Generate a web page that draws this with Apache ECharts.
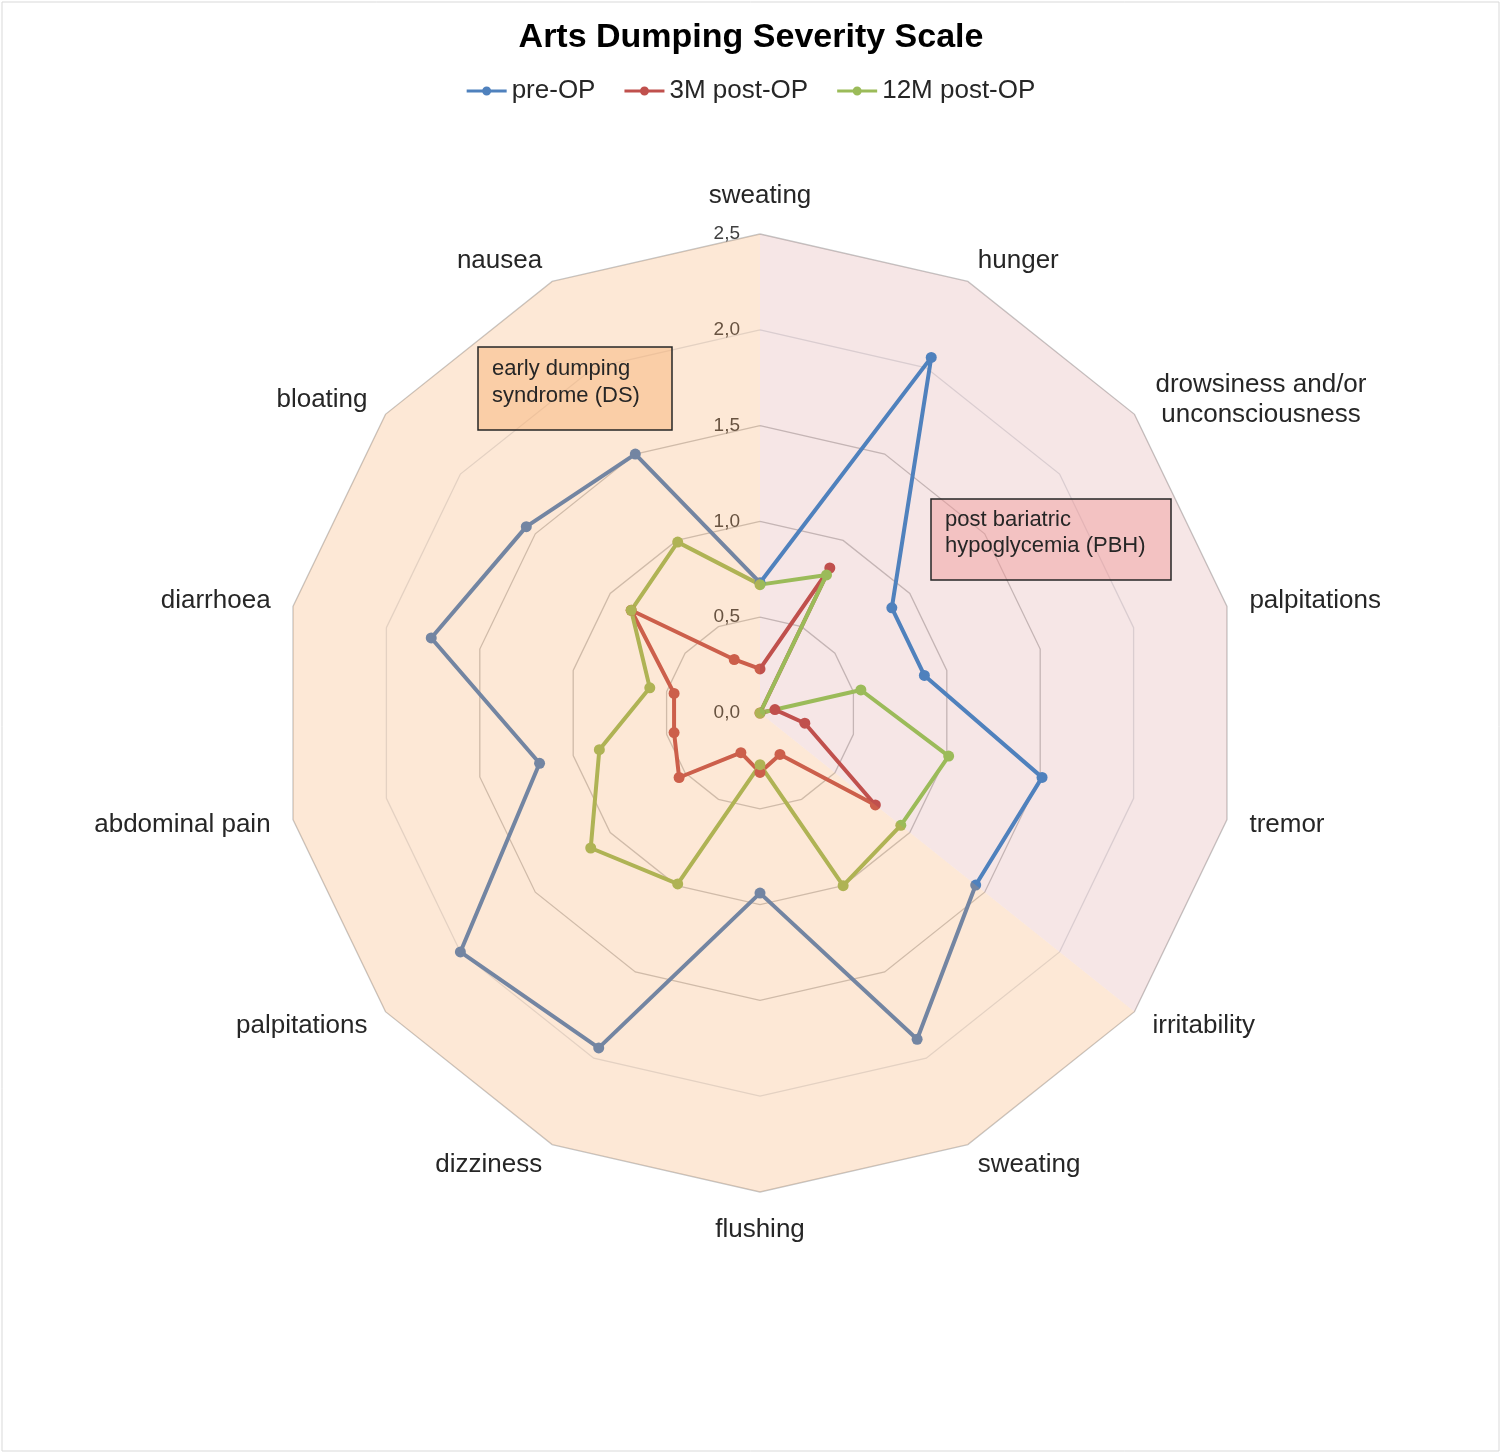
<!DOCTYPE html>
<html>
<head>
<meta charset="utf-8">
<title>Arts Dumping Severity Scale</title>
<script src="https://cdn.jsdelivr.net/npm/echarts@6/dist/echarts.min.js"></script>
<style>
  html, body { margin: 0; padding: 0; background: #fff; }
  #chart { width: 1502px; height: 1454px; }
</style>
</head>
<body>
<div id="chart"></div>
<script>
// symptoms, clockwise from the top
var axes = ['sweating', 'hunger', 'drowsiness and/or\nunconsciousness', 'palpitations', 'tremor',
  'irritability', 'sweating', 'flushing', 'dizziness', 'palpitations', 'abdominal pain',
  'diarrhoea', 'bloating', 'nausea'];

var preOP   = [0.68, 2.06, 0.88, 0.88, 1.51, 1.44, 1.89, 0.94, 1.94, 2.00, 1.18, 1.76, 1.56, 1.50];
var post3M  = [0.23, 0.84, 0.00, 0.08, 0.24, 0.77, 0.24, 0.31, 0.23, 0.54, 0.46, 0.46, 0.86, 0.31];
var post12M = [0.67, 0.80, 0.00, 0.54, 1.01, 0.94, 1.00, 0.27, 0.99, 1.13, 0.86, 0.59, 0.86, 0.99];

// reach of the two shaded zones on each axis
var pbhZone = [2.5, 2.5, 2.5, 2.5, 2.5, 2.5, 0, 0, 0, 0, 0, 0, 0, 0];
var dsZone  = [2.5, 0, 0, 0, 0, 2.5, 2.5, 2.5, 2.5, 2.5, 2.5, 2.5, 2.5, 2.5];

var seriesNames = ['pre-OP', '3M post-OP', '12M post-OP'];
var colors = ['#4f81bd', '#c0504d', '#9bbb59'];
var axisMax = 2.5;

// echarts lays indicators out counter-clockwise, so flip all but the first
function cw(arr) {
  return [arr[0]].concat(arr.slice(1).reverse());
}

var chart = echarts.init(document.getElementById('chart'));
var font = 'Liberation Sans, Arial, sans-serif';

var indicators = cw(axes).map(function (name, i) {
  var ind = { name: name, min: 0, max: axisMax };
  if (i === 0) {
    ind.axisLabel = {
      show: true,
      fontSize: 19,
      color: '#404040',
      fontFamily: font,
      margin: 20,
      formatter: function (v) { return v.toFixed(1).replace('.', ','); }
    };
  }
  return ind;
});

var lineData = [preOP, post3M, post12M].map(function (vals, k) {
  return {
    name: seriesNames[k],
    value: cw(vals),
    symbol: 'circle',
    symbolSize: 11,
    lineStyle: { color: colors[k], width: 4 },
    itemStyle: { color: colors[k] }
  };
});

var option = {
  backgroundColor: '#fff',
  animation: false,
  title: {
    text: 'Arts Dumping Severity Scale',
    left: 'center',
    top: 16,
    textStyle: { fontSize: 34, fontWeight: 'bold', color: '#000', fontFamily: font }
  },
  legend: {
    top: 73,
    left: 'center',
    data: seriesNames,
    itemWidth: 40,
    itemHeight: 11,
    itemGap: 29,
    icon: 'path://M0,4L40,4L40,7L0,7Z M15.5,5.5A4.5,4.5,0,1,1,24.5,5.5A4.5,4.5,0,1,1,15.5,5.5Z',
    textStyle: { fontSize: 26, color: '#262626', fontFamily: font }
  },
  radar: {
    center: [760, 713],
    radius: 479,
    shape: 'polygon',
    splitNumber: 5,
    indicator: indicators,
    nameGap: 23,
    axisName: {
      color: '#262626',
      fontSize: 26,
      lineHeight: 30,
      fontFamily: font,
      formatter: function (name) {
        if (name.indexOf('\n') < 0) return name;
        return name.split('\n').map(function (s) { return '{c|' + s + '}'; }).join('\n');
      },
      rich: {
        c: { width: 217, align: 'center', fontSize: 26, lineHeight: 30, color: '#262626', fontFamily: font }
      }
    },
    axisLine: { show: false },
    axisTick: { show: false },
    axisLabel: { show: false },
    splitLine: {
      lineStyle: {
        color: ['#c6c6c6', '#c6c6c6', '#c6c6c6', '#c6c6c6', '#dfe2e6'],
        width: 1.3
      }
    },
    splitArea: { show: false }
  },
  series: [
    {
      type: 'radar',
      silent: true,
      z: 1,
      symbol: 'none',
      lineStyle: { opacity: 0 },
      areaStyle: { color: '#c0504d', opacity: 0.14 },
      data: [{ name: 'PBH', value: cw(pbhZone) }]
    },
    {
      type: 'radar',
      z: 2,
      data: lineData
    },
    {
      type: 'radar',
      silent: true,
      z: 3,
      symbol: 'none',
      lineStyle: { opacity: 0 },
      areaStyle: { color: '#f79646', opacity: 0.22 },
      data: [{ name: 'DS', value: cw(dsZone) }]
    }
  ],
  graphic: [
    {
      type: 'rect', z: 100,
      shape: { x: 2, y: 2, width: 1497, height: 1449 },
      style: { fill: 'none', stroke: '#d9d9d9', lineWidth: 1 }
    },
    {
      type: 'group', z: 100,
      children: [
        {
          type: 'rect', z: 100,
          shape: { x: 478, y: 347, width: 194, height: 83 },
          style: { fill: 'rgba(248,180,120,0.5)', stroke: '#262626', lineWidth: 1.5 }
        },
        {
          type: 'text', z: 101, x: 492, y: 355,
          style: { text: 'early dumping\nsyndrome (DS)', fontSize: 22, lineHeight: 27, fill: '#262626', fontFamily: font }
        },
        {
          type: 'rect', z: 100,
          shape: { x: 931, y: 499, width: 240, height: 81 },
          style: { fill: 'rgba(240,150,150,0.45)', stroke: '#262626', lineWidth: 1.5 }
        },
        {
          type: 'text', z: 101, x: 945, y: 507,
          style: { text: 'post bariatric\nhypoglycemia (PBH)', fontSize: 22, lineHeight: 26, fill: '#262626', fontFamily: font }
        }
      ]
    }
  ]
};

chart.setOption(option);
</script>
</body>
</html>
